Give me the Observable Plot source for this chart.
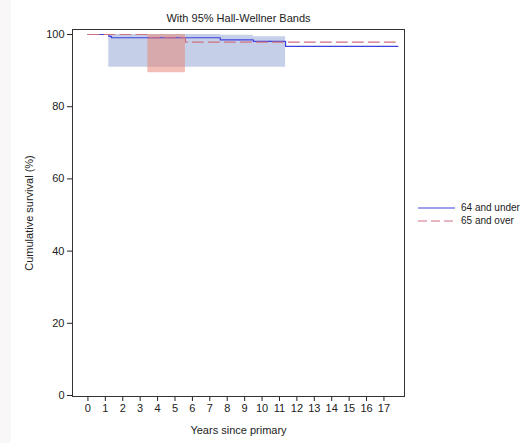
<!DOCTYPE html>
<html><head><meta charset="utf-8">
<script src="https://cdn.jsdelivr.net/npm/d3@7"></script>
<script src="https://cdn.jsdelivr.net/npm/@observablehq/plot@0.6"></script>
<style>
body{margin:0;background:#fff;font-family:"Liberation Sans",Arial,sans-serif;}
#wrap{position:relative;width:528px;height:443px;overflow:hidden;}
#strip{position:absolute;left:0;top:0;width:11px;height:443px;background:#f9f7f8;}
#chart{position:absolute;left:0;top:0;}
#legend{position:absolute;left:418px;top:201px;font-size:10px;color:#222;line-height:13px;white-space:nowrap;}
#legend div{display:flex;align-items:center;height:13px;white-space:nowrap;}
#legend svg{margin-right:6px;flex:none;}
</style></head><body>
<div id="wrap"><div id="strip"></div><div id="chart"></div><div id="legend"></div></div>
<script>
const groups = ["64 and under", "65 and over"];
const groupColors = ["#4040dd", "#d07080"];
const youngTime = [0, 1.2, 1.35, 7.6, 9.5, 11.35, 17.8];
const youngSurv = [100, 99.5, 99.1, 98.5, 98.1, 96.7, 96.7];
const oldTime = [0, 3.44, 5.6, 17.9];
const oldSurv = [100, 99.1, 97.9, 97.9];
const youngBandTime = [1.2, 7.6, 9.5, 11.35];
const youngBandLow = [90.9, 90.9, 90.9, 90.9];
const youngBandHigh = [100, 99.8, 99.4, 99.4];
const oldBandTime = [3.44, 5.6];
const oldBandLow = [89.4, 89.4];
const oldBandHigh = [100, 100];
const xTicks = [0,1,2,3,4,5,6,7,8,9,10,11,12,13,14,15,16,17];
const yTicks = [0,20,40,60,80,100];
const title = "With 95% Hall-Wellner Bands";

const young = youngTime.map((t,i)=>({t, s: youngSurv[i]}));
const old = oldTime.map((t,i)=>({t, s: oldSurv[i]}));
const youngBand = youngBandTime.map((t,i)=>({t, lo: youngBandLow[i], hi: youngBandHigh[i]}));
const oldBand = oldBandTime.map((t,i)=>({t, lo: oldBandLow[i], hi: oldBandHigh[i]}));

const chart = Plot.plot({
  width: 528, height: 443,
  marginLeft: 72, marginRight: 124, marginTop: 29, marginBottom: 47,
  style: {fontFamily: "'Liberation Sans', Arial, sans-serif", fontSize: "11px", color: "#222", background: "transparent"},
  x: {domain: [-0.886, 18.18], ticks: xTicks, tickFormat: d => d, label: "Years since primary", labelArrow: "none", labelAnchor: "center", labelOffset: 37, tickSize: 5, tickPadding: 3},
  y: {domain: [-0.28, 101.39], ticks: yTicks, tickFormat: d => d, label: "Cumulative survival (%)", labelArrow: "none", labelAnchor: "center", labelOffset: 47, tickSize: 5, tickPadding: 3},
  marks: [
    Plot.areaY(youngBand, {x: "t", y1: "lo", y2: "hi", curve: "step-after", fill: "#c5d0e8"}),
    Plot.areaY(oldBand, {x: "t", y1: "lo", y2: "hi", curve: "step-after", fill: "#e7897a", fillOpacity: 0.55}),
    Plot.line(young, {x: "t", y: "s", curve: "step-after", stroke: groupColors[0], strokeWidth: 1.2}),
    Plot.line(old, {x: "t", y: "s", curve: "step-after", stroke: groupColors[1], strokeWidth: 1.2, strokeDasharray: "11,5"}),
    Plot.frame({stroke: "#333"}),
    Plot.text([title], {frameAnchor: "top", dy: -15, text: d => d, fontSize: 11, fill: "#222"})
  ]
});
document.getElementById("chart").appendChild(chart);

const legend = document.getElementById("legend");
groups.forEach((g, i) => {
  const row = document.createElement("div");
  row.innerHTML = `<svg width="37" height="6"><line x1="0" x2="37" y1="3" y2="3" stroke="${groupColors[i]}" stroke-width="1.2" ${i ? 'stroke-dasharray="9,4"' : ''}/></svg><span>${g}</span>`;
  legend.appendChild(row);
});
</script>
</body></html>
